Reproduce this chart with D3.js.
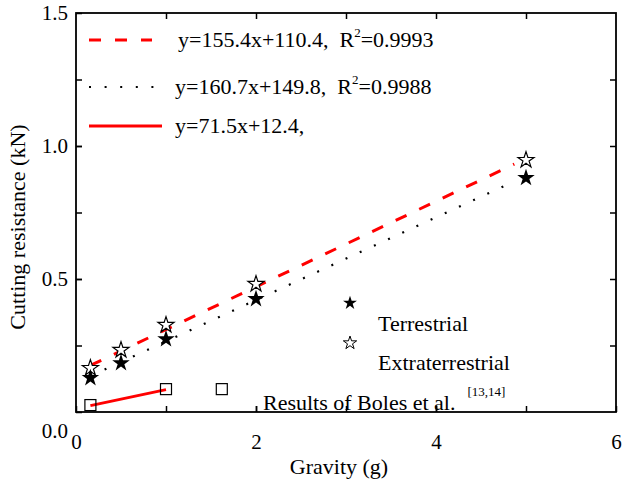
<!DOCTYPE html>
<html>
<head>
<meta charset="utf-8">
<script src="https://cdn.jsdelivr.net/npm/d3@7"></script>
<style>
  body { margin: 0; background: #fff; }
  text { font-family: "Liberation Serif", "Times New Roman", serif; fill: #000; }
  .tick-label { font-size: 21px; }
  .axis-label { font-size: 22px; }
  .legend-text { font-size: 22px; }
</style>
</head>
<body>
<div id="chart"></div>
<script>
// values
const gravity = [0.16, 0.5, 1, 2, 5];
const terrestrial = [0.128, 0.184, 0.274, 0.425, 0.88];
const extraterrestrial = [0.165, 0.233, 0.327, 0.481, 0.947];
const bolesGravity = [0.16, 1, 1.62];
const bolesForce = [0.026, 0.086, 0.086];

// fitted lines, end points [gravity, force]
const dashedFit = [[0.16, 0.175], [4.87, 0.932]];
const dottedFit = [[0.16, 0.135], [4.85, 0.864]];
const solidFit = [[0.16, 0.024], [1.0, 0.084]];

const xTicks = [0, 2, 4, 6];
const xMinorTicks = [1, 2, 3, 4, 5];
const yTicks = [0, 0.5, 1.0, 1.5];
const yMinorTicks = [0.25, 0.5, 0.75, 1.0, 1.25];
const fitLabels = ["y=155.4x+110.4,  R", "y=160.7x+149.8,  R", "y=71.5x+12.4,"];
const fitR2 = ["=0.9993", "=0.9988", ""];

const width = 622, height = 481;
const margin = { top: 13, right: 6, bottom: 69, left: 76 };

const svg = d3.select("#chart")
    .append("svg")
    .attr("width", width)
    .attr("height", height);

const xScale = d3.scaleLinear()
    .domain([0, 6])
    .range([margin.left, width - margin.right]);

const yScale = d3.scaleLinear()
    .domain([0, 1.5])
    .range([height - margin.bottom, margin.top]);

const x0 = xScale(0), x1 = xScale(6), y0 = yScale(0), y1 = yScale(1.5);

// axes with inward ticks
svg.append("g")
    .attr("transform", `translate(0, ${y0})`)
    .call(d3.axisBottom(xScale).tickValues(xTicks).tickSize(-6).tickPadding(22).tickFormat(d3.format("d")));

const leftAxis = svg.append("g")
    .attr("transform", `translate(${x0}, 0)`)
    .call(d3.axisLeft(yScale).tickValues(yTicks).tickSize(-6).tickPadding(8).tickFormat(d3.format(".1f")));

// minor ticks on all four sides
svg.append("g")
    .attr("transform", `translate(0, ${y0})`)
    .call(d3.axisBottom(xScale).tickValues(xMinorTicks).tickSize(-6).tickFormat(""));
svg.append("g")
    .attr("transform", `translate(0, ${y1})`)
    .call(d3.axisTop(xScale).tickValues(xMinorTicks).tickSize(-6).tickFormat(""));
svg.append("g")
    .attr("transform", `translate(${x0}, 0)`)
    .call(d3.axisLeft(yScale).tickValues(yMinorTicks).tickSize(-6).tickFormat(""));
svg.append("g")
    .attr("transform", `translate(${x1}, 0)`)
    .call(d3.axisRight(yScale).tickValues(yMinorTicks).tickSize(-6).tickFormat(""));

svg.selectAll(".domain").remove();
svg.selectAll(".tick line").attr("stroke", "#000").attr("stroke-width", 1.5);
svg.selectAll(".tick text").attr("class", "tick-label").attr("font-size", null).attr("font-family", null);

// the 0.0 label sits lower in the original
leftAxis.selectAll(".tick text")
    .filter(d => d === 0)
    .attr("dy", "1.2em");

// frame
svg.append("rect")
    .attr("x", x0)
    .attr("y", y1)
    .attr("width", x1 - x0)
    .attr("height", y0 - y1)
    .attr("fill", "none")
    .attr("stroke", "#000")
    .attr("stroke-width", 1.8);

// axis titles
svg.append("text")
    .attr("class", "axis-label")
    .attr("x", 339)
    .attr("y", 474)
    .attr("text-anchor", "middle")
    .text("Gravity (g)");

svg.append("text")
    .attr("class", "axis-label")
    .attr("transform", `translate(25, 227) rotate(-90)`)
    .attr("text-anchor", "middle")
    .text("Cutting resistance (kN)");

// fit lines
const line = d3.line().x(d => xScale(d[0])).y(d => yScale(d[1]));

svg.append("path")
    .datum(dashedFit)
    .attr("d", line)
    .attr("fill", "none")
    .attr("stroke", "#f00")
    .attr("stroke-width", 3)
    .attr("stroke-dasharray", "12,14");

svg.append("path")
    .datum(dottedFit)
    .attr("d", line)
    .attr("fill", "none")
    .attr("stroke", "#000")
    .attr("stroke-width", 2.2)
    .attr("stroke-dasharray", "2,13.6");

svg.append("path")
    .datum(solidFit)
    .attr("d", line)
    .attr("fill", "none")
    .attr("stroke", "#f00")
    .attr("stroke-width", 3);

// points
const starFilled = d3.symbol().type(d3.symbolStar).size(95);
const starOpen = d3.symbol().type(d3.symbolStar).size(80);

svg.selectAll(".ext")
    .data(gravity.map((g, i) => [g, extraterrestrial[i]]))
    .join("path")
    .attr("class", "ext")
    .attr("transform", d => `translate(${xScale(d[0])}, ${yScale(d[1])})`)
    .attr("d", starOpen)
    .attr("fill", "#fff")
    .attr("stroke", "#000")
    .attr("stroke-width", 1.2);

svg.selectAll(".ter")
    .data(gravity.map((g, i) => [g, terrestrial[i]]))
    .join("path")
    .attr("class", "ter")
    .attr("transform", d => `translate(${xScale(d[0])}, ${yScale(d[1])})`)
    .attr("d", starFilled)
    .attr("fill", "#000");

svg.selectAll(".boles")
    .data(bolesGravity.map((g, i) => [g, bolesForce[i]]))
    .join("rect")
    .attr("class", "boles")
    .attr("x", d => xScale(d[0]) - 5.5)
    .attr("y", d => yScale(d[1]) - 5.5)
    .attr("width", 11)
    .attr("height", 11)
    .attr("fill", "none")
    .attr("stroke", "#000")
    .attr("stroke-width", 1.2);

// legend for the fit lines
const fitLegend = svg.append("g").attr("transform", "translate(89, 0)");
const legendRows = [
    { y: 40, color: "#f00", w: 3, dash: "12,14", len: 63, tx: 89 },
    { y: 87, color: "#000", w: 2.2, dash: "2,13.6", len: 66, tx: 86 },
    { y: 126, color: "#f00", w: 3, dash: null, len: 73, tx: 86 }
];
legendRows.forEach((r, i) => {
    fitLegend.append("line")
        .attr("x1", 0).attr("x2", r.len)
        .attr("y1", r.y).attr("y2", r.y)
        .attr("stroke", r.color)
        .attr("stroke-width", r.w)
        .attr("stroke-dasharray", r.dash);
    const t = fitLegend.append("text")
        .attr("class", "legend-text")
        .attr("x", r.tx)
        .attr("y", r.y + 7)
        .attr("xml:space", "preserve")
        .text(fitLabels[i]);
    if (fitR2[i]) {
        t.append("tspan").attr("dy", -10).attr("font-size", 13).text("2");
        t.append("tspan").attr("dy", 10).text(fitR2[i]);
    }
});

// legend for the markers
svg.append("path")
    .attr("transform", "translate(350, 303)")
    .attr("d", d3.symbol().type(d3.symbolStar).size(60))
    .attr("fill", "#000");
svg.append("path")
    .attr("transform", "translate(350, 343)")
    .attr("d", d3.symbol().type(d3.symbolStar).size(55))
    .attr("fill", "#fff")
    .attr("stroke", "#000")
    .attr("stroke-width", 1);

svg.append("text").attr("class", "legend-text").attr("x", 378).attr("y", 331).text("Terrestrial");
svg.append("text").attr("class", "legend-text").attr("x", 378).attr("y", 370).text("Extraterrestrial");

const boles = svg.append("text").attr("class", "legend-text").attr("x", 263).attr("y", 410)
    .text("Results of Boles et al.");
boles.append("tspan").attr("dx", 12).attr("dy", -14).attr("font-size", 13).text("[13,14]");
</script>
</body>
</html>
